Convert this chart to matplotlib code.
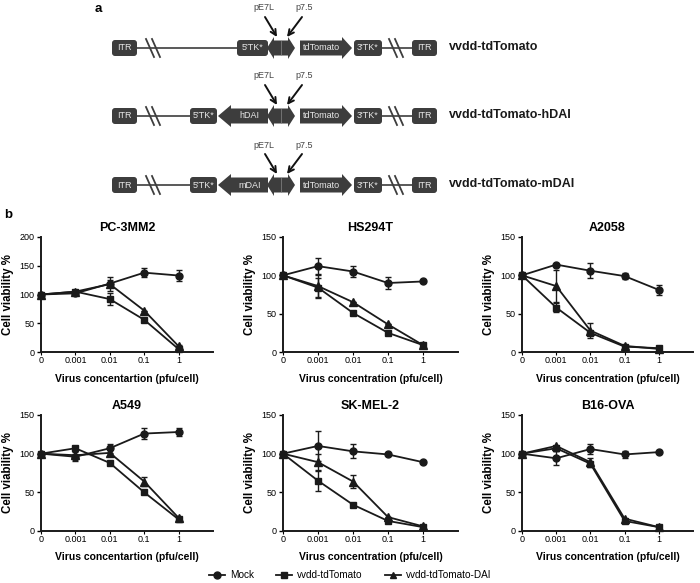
import numpy as np
import matplotlib
matplotlib.use('Agg')
import matplotlib.pyplot as plt
from matplotlib.patches import FancyBboxPatch, Polygon
from matplotlib.lines import Line2D

plt.rcParams['font.family'] = ['Liberation Sans', 'DejaVu Sans']

# ---- data (cell viability %) ----
conc_labels = ['0', '0.001', '0.01', '0.1', '1']
cell_lines = ['PC-3MM2', 'HS294T', 'A2058', 'A549', 'SK-MEL-2', 'B16-OVA']
xlabels = ['Virus concentartion (pfu/cell)', 'Virus concentration (pfu/cell)',
           'Virus concentration (pfu/cell)', 'Virus concentartion (pfu/cell)',
           'Virus concentration (pfu/cell)', 'Virus concentration (pfu/cell)']
ymax = [200, 150, 150, 150, 150, 150]

mock = [
    [100, 102, 119, 138, 133],
    [100, 112, 105, 90, 92],
    [100, 114, 106, 99, 81],
    [100, 96, 107, 126, 128],
    [100, 110, 103, 99, 89],
    [100, 94, 106, 99, 102],
]
mock_err = [
    [0, 3, 6, 8, 10],
    [0, 10, 7, 8, 0],
    [0, 0, 10, 4, 7],
    [0, 6, 6, 7, 5],
    [0, 19, 9, 0, 0],
    [0, 9, 6, 5, 0],
]
tdtom = [
    [100, 105, 92, 56, 5],
    [100, 84, 51, 25, 9],
    [100, 58, 25, 7, 5],
    [100, 107, 88, 50, 15],
    [100, 65, 34, 13, 5],
    [100, 107, 87, 13, 5],
]
tdtom_err = [
    [0, 3, 10, 3, 2],
    [0, 12, 0, 0, 0],
    [0, 6, 3, 0, 0],
    [0, 0, 3, 0, 0],
    [0, 13, 0, 0, 0],
    [0, 3, 0, 0, 0],
]
dai = [
    [100, 105, 118, 72, 10],
    [100, 86, 65, 36, 9],
    [100, 86, 28, 8, 4],
    [100, 98, 101, 64, 17],
    [100, 89, 64, 18, 6],
    [100, 110, 89, 16, 5],
]
dai_err = [
    [0, 0, 12, 0, 2],
    [0, 15, 0, 0, 0],
    [0, 21, 10, 0, 0],
    [0, 0, 4, 6, 0],
    [0, 10, 8, 0, 0],
    [0, 0, 6, 0, 0],
]

# constructs for panel a: (name, insert gene)
constructs = [('vvdd-tdTomato', None), ('vvdd-tdTomato-hDAI', 'hDAI'),
              ('vvdd-tdTomato-mDAI', 'mDAI')]
row_y = [48, 116, 185]

W, H = 700, 583
fig = plt.figure(figsize=(7, 5.83), dpi=100)
dark = '#3d3d3d'

# ---- panel a: construct schematic (pixel coordinates) ----
axa = fig.add_axes([0, 1 - 200 / H, 1, 200 / H])
axa.set_xlim(0, W)
axa.set_ylim(200, 0)
axa.axis('off')


def box(x0, x1, yc, text, h=16):
    axa.add_patch(FancyBboxPatch((x0, yc - h / 2), x1 - x0, h,
                                 boxstyle='round,pad=0,rounding_size=3',
                                 fc=dark, ec='none', zorder=3))
    axa.text((x0 + x1) / 2, yc, text, color='#e8e8e8', fontsize=6.5,
             ha='center', va='center', zorder=4)


def arrow(x0, x1, yc, text=None, h=15, hw=22, hl=10):
    # x1 is the tip; works for both directions
    s = 1 if x1 > x0 else -1
    xb = x1 - s * hl
    pts = [(x0, yc - h / 2), (xb, yc - h / 2), (xb, yc - hw / 2), (x1, yc),
           (xb, yc + hw / 2), (xb, yc + h / 2), (x0, yc + h / 2)]
    axa.add_patch(Polygon(pts, closed=True, fc=dark, ec='none', zorder=3))
    if text:
        axa.text((x0 + xb) / 2, yc, text, color='#e8e8e8', fontsize=6.5,
                 ha='center', va='center', zorder=4)


def brk(x, yc):
    for dx in (0, 6):
        axa.plot([x + dx - 4, x + dx + 4], [yc - 9, yc + 9], color=dark,
                 lw=1.3, zorder=4)


for (name, gene), yc in zip(constructs, row_y):
    tk5 = (237, 268) if gene is None else (190, 217)
    axa.plot([137, tk5[0]], [yc, yc], color=dark, lw=1.2, zorder=2)
    axa.plot([382, 412], [yc, yc], color=dark, lw=1.2, zorder=2)
    brk(150, yc)
    brk(393, yc)
    box(112, 137, yc, 'ITR')
    box(tk5[0], tk5[1], yc, "5'TK*")
    if gene is not None:
        arrow(268, 218, yc, gene, hl=13)
    # promoters (back-to-back)
    arrow(281, 267, yc, h=15, hw=22, hl=7)
    arrow(281, 295, yc, h=15, hw=22, hl=7)
    axa.plot([281, 281], [yc - 7, yc + 7], color='#888888', lw=0.5, zorder=4)
    arrow(300, 352, yc, 'tdTomato')
    box(354, 382, yc, "3'TK*")
    box(412, 437, yc, 'ITR')
    axa.text(449, yc - 1, name, fontsize=9, fontweight='bold',
             ha='left', va='center', color='#1a1a1a')
    axa.text(264, yc - 40, 'pE7L', fontsize=6.5, ha='center', va='center',
             color='#444444')
    axa.text(304, yc - 40, 'p7.5', fontsize=6.5, ha='center', va='center',
             color='#444444')
    axa.annotate('', xy=(277, yc - 11), xytext=(265, yc - 31),
                 arrowprops=dict(arrowstyle='->', lw=1.4, color='#111111',
                                 shrinkA=0, shrinkB=0))
    axa.annotate('', xy=(287, yc - 11), xytext=(302, yc - 31),
                 arrowprops=dict(arrowstyle='->', lw=1.4, color='#111111',
                                 shrinkA=0, shrinkB=0))

fig.text(98 / W, 1 - 9 / H, 'a', fontsize=9.5, fontweight='bold',
         ha='center', va='center')
fig.text(8 / W, 1 - 215 / H, 'b', fontsize=9.5, fontweight='bold',
         ha='center', va='center')

# ---- panel b: viability curves ----
cols = [(41, 213), (283, 458), (522, 693)]
rows = [(237, 352), (415, 531)]
x = np.arange(len(conc_labels))
series = [(mock, mock_err, 'o', 'Mock'),
          (tdtom, tdtom_err, 's', 'vvdd-tdTomato'),
          (dai, dai_err, '^', 'vvdd-tdTomato-DAI')]

for i, name in enumerate(cell_lines):
    top, bot = rows[i // 3]
    left, right = cols[i % 3]
    ax = fig.add_axes([left / W, 1 - bot / H, (right - left) / W, (bot - top) / H])
    for vals, errs, mk, lab in series:
        ax.errorbar(x, vals[i], yerr=errs[i], marker=mk, ms=5 if mk != '^' else 5.5,
                    color='#1a1a1a', lw=1.3, elinewidth=1.0, capsize=2.5,
                    capthick=1.0, clip_on=False, label=lab, zorder=3)
    ax.set_xlim(0, 5)
    ax.set_ylim(0, ymax[i])
    ax.set_yticks(np.arange(0, ymax[i] + 1, 50))
    ax.set_xticks(x)
    ax.set_xticklabels(conc_labels)
    for s in ('top', 'right'):
        ax.spines[s].set_visible(False)
    for s in ('left', 'bottom'):
        ax.spines[s].set_linewidth(1.4)
        ax.spines[s].set_color('#1a1a1a')
    ax.tick_params(axis='y', length=3, width=1, labelsize=6.5, pad=1.5)
    ax.tick_params(axis='x', length=2, width=0.8, labelsize=6.5, pad=1)
    ax.set_title(name, fontsize=9, fontweight='bold', pad=4)
    ax.set_xlabel(xlabels[i], fontsize=7.5, fontweight='bold', labelpad=6)
    ax.set_ylabel('Cell viability %', fontsize=8.3, fontweight='bold', labelpad=4)

handles = [Line2D([], [], marker=mk, color='#1a1a1a', lw=1.3, ms=5)
           for _, _, mk, _ in series]
fig.legend(handles, [s[3] for s in series], loc='center', ncol=3,
           bbox_to_anchor=(0.5, 8 / H), frameon=False, fontsize=7.2,
           handlelength=1.6, columnspacing=2.2, handletextpad=0.5)

fig.savefig('out.png', dpi=100)
